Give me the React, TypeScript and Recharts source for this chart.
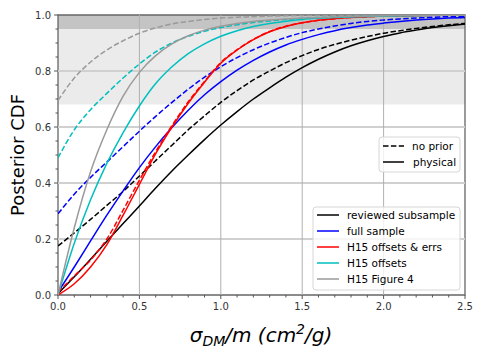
import { LineChart, Line, XAxis, YAxis, ReferenceArea, ReferenceLine } from 'recharts'

const xs = [0, 0.1, 0.2, 0.3, 0.4, 0.5, 0.6, 0.7, 0.8, 0.9, 1.0, 1.1, 1.2, 1.3, 1.4, 1.5, 1.6, 1.7, 1.8, 1.9, 2.0, 2.1, 2.2, 2.3, 2.4, 2.5]

const reviewedPhysical = [0.005, 0.065, 0.128, 0.192, 0.255, 0.318, 0.382, 0.443, 0.5, 0.555, 0.607, 0.655, 0.7, 0.74, 0.778, 0.812, 0.842, 0.868, 0.89, 0.908, 0.923, 0.936, 0.946, 0.955, 0.962, 0.968]
const reviewedNoPrior = [0.175, 0.222, 0.27, 0.32, 0.37, 0.425, 0.48, 0.535, 0.59, 0.64, 0.688, 0.73, 0.768, 0.8, 0.83, 0.855, 0.877, 0.895, 0.91, 0.923, 0.935, 0.944, 0.952, 0.959, 0.965, 0.97]
const fullPhysical = [0.01, 0.1, 0.193, 0.285, 0.372, 0.455, 0.53, 0.598, 0.66, 0.715, 0.762, 0.803, 0.838, 0.868, 0.893, 0.913, 0.93, 0.944, 0.955, 0.964, 0.971, 0.977, 0.982, 0.986, 0.989, 0.991]
const fullNoPrior = [0.29, 0.36, 0.42, 0.475, 0.53, 0.585, 0.638, 0.688, 0.735, 0.778, 0.815, 0.848, 0.876, 0.9, 0.92, 0.937, 0.95, 0.961, 0.97, 0.977, 0.982, 0.986, 0.989, 0.992, 0.994, 0.995]
const errsPhysical = [0, 0.04, 0.1, 0.18, 0.285, 0.395, 0.505, 0.6, 0.685, 0.76, 0.828, 0.875, 0.912, 0.94, 0.959, 0.972, 0.981, 0.987, 0.991, 0.994, 0.996, 0.997, 0.998, 0.999, 0.999, 1.0]
const errsNoPrior = [0.01, 0.068, 0.125, 0.2, 0.303, 0.41, 0.512, 0.605, 0.69, 0.763, 0.83, 0.876, 0.913, 0.941, 0.96, 0.972, 0.981, 0.987, 0.991, 0.994, 0.996, 0.997, 0.998, 0.999, 0.999, 1.0]
const offsetsPhysical = [0, 0.185, 0.34, 0.47, 0.58, 0.675, 0.755, 0.815, 0.862, 0.897, 0.924, 0.944, 0.959, 0.97, 0.978, 0.984, 0.988, 0.991, 0.993, 0.995, 0.996, 0.997, 0.998, 0.999, 0.999, 1.0]
const offsetsNoPrior = [0.49, 0.59, 0.662, 0.72, 0.775, 0.825, 0.868, 0.9, 0.924, 0.942, 0.955, 0.965, 0.973, 0.979, 0.984, 0.988, 0.991, 0.993, 0.995, 0.996, 0.997, 0.998, 0.998, 0.999, 0.999, 1.0]
const fig4Physical = [0, 0.24, 0.44, 0.59, 0.71, 0.795, 0.855, 0.897, 0.926, 0.946, 0.96, 0.97, 0.977, 0.982, 0.986, 0.989, 0.991, 0.993, 0.995, 0.996, 0.997, 0.998, 0.998, 0.999, 0.999, 1.0]
const fig4NoPrior = [0.695, 0.775, 0.832, 0.875, 0.908, 0.935, 0.954, 0.968, 0.977, 0.984, 0.989, 0.992, 0.994, 0.996, 0.997, 0.998, 0.998, 0.999, 0.999, 1.0, 1.0, 1.0, 1.0, 1.0, 1.0, 1.0]

const xMajorTicks = [0, 0.5, 1.0, 1.5, 2.0, 2.5]
const xTicks = [0, 0.1, 0.2, 0.3, 0.4, 0.5, 0.6, 0.7, 0.8, 0.9, 1.0, 1.1, 1.2, 1.3, 1.4, 1.5, 1.6, 1.7, 1.8, 1.9, 2.0, 2.1, 2.2, 2.3, 2.4, 2.5]
const yMajorTicks = [0, 0.2, 0.4, 0.6, 0.8, 1.0]
const yTicks = [0, 0.05, 0.1, 0.15, 0.2, 0.25, 0.3, 0.35, 0.4, 0.45, 0.5, 0.55, 0.6, 0.65, 0.7, 0.75, 0.8, 0.85, 0.9, 0.95, 1.0]

const series = [
  { name: 'reviewed subsample', color: '#000000', physical: reviewedPhysical, noPrior: reviewedNoPrior },
  { name: 'full sample', color: '#0000ff', physical: fullPhysical, noPrior: fullNoPrior },
  { name: 'H15 offsets & errs', color: '#ff0000', physical: errsPhysical, noPrior: errsNoPrior },
  { name: 'H15 offsets', color: '#00bfbf', physical: offsetsPhysical, noPrior: offsetsNoPrior },
  { name: 'H15 Figure 4', color: '#9a9a9a', physical: fig4Physical, noPrior: fig4NoPrior },
]

const data = xs.map((x, i) => {
  const row: Record<string, number> = { x }
  series.forEach((s, k) => {
    row[`p${k}`] = s.physical[i]
    row[`n${k}`] = s.noPrior[i]
  })
  return row
})

const isMajor = (v: number, list: number[]) => list.some((m) => Math.abs(m - v) < 1e-6)

function XTick(props: any) {
  const { x, y, payload } = props
  const major = isMajor(payload.value, xMajorTicks)
  return (
    <g>
      <line x1={x} x2={x} y1={y} y2={y + (major ? 4 : 2.5)} stroke="#555" strokeWidth={1} />
      {major && (
        <text x={x} y={y + 15} textAnchor="middle" fontSize={10} fill="#333" fontFamily="DejaVu Sans">
          {payload.value.toFixed(1)}
        </text>
      )}
    </g>
  )
}

function YTick(props: any) {
  const { x, y, payload } = props
  const major = isMajor(payload.value, yMajorTicks)
  return (
    <g>
      <line x1={x} x2={x - (major ? 4 : 2.5)} y1={y} y2={y} stroke="#555" strokeWidth={1} />
      {major && (
        <text x={x - 7} y={y + 3.5} textAnchor="end" fontSize={10} fill="#333" fontFamily="DejaVu Sans">
          {payload.value.toFixed(1)}
        </text>
      )}
    </g>
  )
}

const dash = '5.5 2.4'

export default function App() {
  return (
    <div style={{ position: 'absolute', left: 0, top: 0, width: 484, height: 363, background: '#fff' }}>
      <LineChart width={484} height={363} data={data} margin={{ top: 15, right: 19, bottom: 38, left: 18 }}>
        <XAxis
          dataKey="x"
          type="number"
          domain={[0, 2.5]}
          ticks={xTicks}
          interval={0}
          height={30}
          tickSize={0}
          tickMargin={0}
          tickLine={false}
          axisLine={false}
          tick={<XTick />}
          allowDataOverflow
        />
        <YAxis
          type="number"
          domain={[0, 1]}
          ticks={yTicks}
          interval={0}
          width={40}
          tickSize={0}
          tickMargin={0}
          tickLine={false}
          axisLine={false}
          tick={<YTick />}
          allowDataOverflow
        />
        <ReferenceArea x1={0} x2={2.5} y1={0.68} y2={0.95} fill="#ebebeb" fillOpacity={1} stroke="none" />
        <ReferenceArea x1={0} x2={2.5} y1={0.95} y2={1} fill="#c4c4c4" fillOpacity={1} stroke="none" />
        {[0.2, 0.4, 0.6, 0.8].map((v) => (
          <ReferenceLine key={`h${v}`} y={v} stroke="#d0d0d0" strokeWidth={2} />
        ))}
        {[0.5, 1.0, 1.5, 2.0].map((v) => (
          <ReferenceLine key={`v${v}`} x={v} stroke="#b0b0b0" strokeWidth={1} />
        ))}
        {series.map((s, k) => [
          <Line key={`n${k}`} type="monotone" dataKey={`n${k}`} stroke={s.color} strokeWidth={1.5} strokeDasharray={dash} dot={false} isAnimationActive={false} />,
          <Line key={`p${k}`} type="monotone" dataKey={`p${k}`} stroke={s.color} strokeWidth={1.5} dot={false} isAnimationActive={false} />,
        ])}
        <ReferenceArea x1={0} x2={2.5} y1={0} y2={1} fill="none" stroke="#666" strokeWidth={1.3} />
      </LineChart>

      <svg width={484} height={363} style={{ position: 'absolute', left: 0, top: 0, pointerEvents: 'none' }} fontFamily="DejaVu Sans">
        <text transform="translate(24,155) rotate(-90)" textAnchor="middle" fontSize={18} fill="#000">
          Posterior CDF
        </text>
        <text x={261} y={342} textAnchor="middle" fontSize={20} fontStyle="italic" fill="#000">
          σ<tspan fontSize={14} dy={4}>DM</tspan>
          <tspan dy={-4}>/m (cm</tspan>
          <tspan fontSize={14} dy={-8}>2</tspan>
          <tspan dy={8}>/g)</tspan>
        </text>

        <rect x={379} y={137} width={81} height={35} rx={3} fill="#fff" fillOpacity={0.8} stroke="#d6d6d6" />
        <line x1={383} x2={404} y1={146} y2={146} stroke="#000" strokeWidth={1.5} strokeDasharray={dash} />
        <text x={412} y={149.5} fontSize={10.5} fill="#000">no prior</text>
        <line x1={383} x2={404} y1={162} y2={162} stroke="#000" strokeWidth={1.5} />
        <text x={413} y={165.5} fontSize={10.5} fill="#000">physical</text>

        <rect x={313} y={207} width={147} height={83} rx={3} fill="#fff" fillOpacity={0.8} stroke="#d6d6d6" />
        {series.map((s, k) => (
          <g key={s.name}>
            <line x1={317} x2={339} y1={215 + k * 16} y2={215 + k * 16} stroke={s.color} strokeWidth={1.5} />
            <text x={347} y={218.5 + k * 16} fontSize={10.5} fill="#000">{s.name}</text>
          </g>
        ))}
      </svg>
    </div>
  )
}
